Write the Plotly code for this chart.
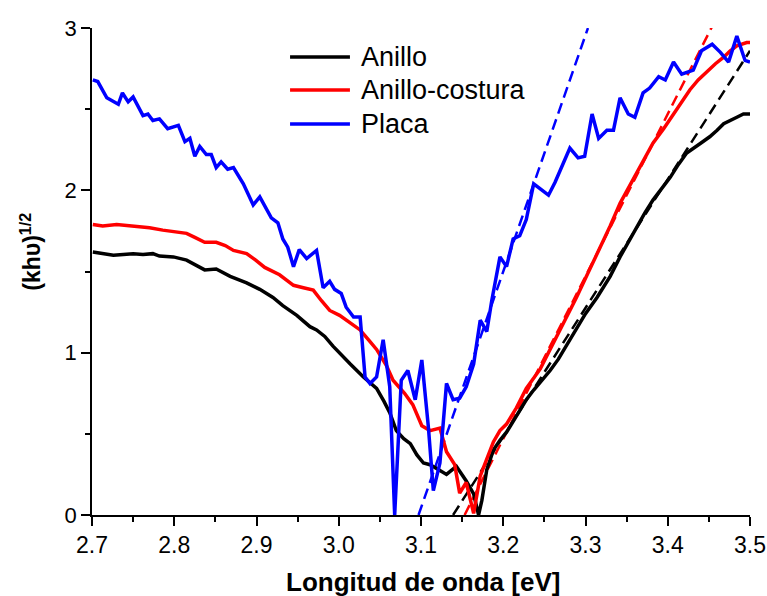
import plotly.graph_objects as go

# Energy axis [eV] and (k h nu)^(1/2) curves for each sample
anillo_x = [2.701, 2.713, 2.726, 2.738, 2.750, 2.762, 2.774, 2.782, 2.799, 2.815, 2.826, 2.837,
            2.851, 2.868, 2.888, 2.904, 2.920, 2.932, 2.949, 2.958, 2.965, 2.973, 2.983, 2.993,
            3.004, 3.014, 3.030, 3.046, 3.055, 3.062, 3.070, 3.079, 3.087, 3.095, 3.103, 3.111,
            3.121, 3.131, 3.143, 3.155, 3.164, 3.170, 3.174, 3.180, 3.188, 3.196, 3.204, 3.212,
            3.220, 3.228, 3.237, 3.247, 3.257, 3.267, 3.278, 3.289, 3.300, 3.314, 3.330, 3.342,
            3.352, 3.362, 3.372, 3.382, 3.392, 3.403, 3.413, 3.423, 3.440, 3.451, 3.460, 3.468,
            3.484, 3.492, 3.500]
anillo_y = [1.62, 1.61, 1.60, 1.605, 1.61, 1.605, 1.61, 1.595, 1.59, 1.57, 1.54, 1.51,
            1.515, 1.47, 1.43, 1.39, 1.34, 1.29, 1.23, 1.19, 1.16, 1.14, 1.10, 1.04,
            0.98, 0.93, 0.85, 0.78, 0.70, 0.63, 0.52, 0.47, 0.44, 0.37, 0.32, 0.31,
            0.28, 0.25, 0.30, 0.21, 0.13, 0.0, 0.09, 0.28, 0.40, 0.46, 0.51, 0.58,
            0.65, 0.71, 0.77, 0.83, 0.89, 0.96, 1.05, 1.15, 1.24, 1.34, 1.47, 1.59,
            1.68, 1.78, 1.86, 1.94, 2.01, 2.08, 2.16, 2.23, 2.29, 2.33, 2.37, 2.41,
            2.45, 2.47, 2.47]

costura_x = [2.701, 2.713, 2.730, 2.750, 2.770, 2.786, 2.803, 2.815, 2.825, 2.837, 2.851, 2.862,
             2.872, 2.888, 2.899, 2.910, 2.928, 2.945, 2.957, 2.969, 2.979, 2.989, 3.001, 3.014,
             3.026, 3.036, 3.046, 3.058, 3.066, 3.080, 3.090, 3.101, 3.111, 3.123, 3.131, 3.141,
             3.147, 3.155, 3.164, 3.172, 3.180, 3.188, 3.196, 3.204, 3.216, 3.228, 3.245, 3.257,
             3.268, 3.279, 3.289, 3.303, 3.318, 3.330, 3.342, 3.352, 3.362, 3.372, 3.382, 3.395,
             3.407, 3.417, 3.427, 3.437, 3.447, 3.458, 3.468, 3.476, 3.484, 3.496, 3.500]
costura_y = [1.79, 1.78, 1.79, 1.78, 1.77, 1.755, 1.745, 1.735, 1.71, 1.68, 1.68, 1.66,
             1.63, 1.61, 1.57, 1.525, 1.48, 1.415, 1.40, 1.385, 1.32, 1.26, 1.23, 1.18,
             1.14, 1.08, 1.02, 0.92, 0.83, 0.75, 0.68, 0.55, 0.52, 0.535, 0.39, 0.31,
             0.135, 0.20, 0.01, 0.24, 0.34, 0.45, 0.52, 0.56, 0.66, 0.78, 0.90, 1.02,
             1.12, 1.23, 1.34, 1.49, 1.65, 1.78, 1.92, 2.01, 2.10, 2.20, 2.29, 2.38,
             2.47, 2.55, 2.62, 2.68, 2.73, 2.78, 2.82, 2.86, 2.89, 2.91, 2.91]

placa_x = [2.701, 2.707, 2.718, 2.732, 2.737, 2.744, 2.750, 2.762, 2.768, 2.774, 2.782, 2.792,
           2.805, 2.813, 2.819, 2.825, 2.831, 2.839, 2.845, 2.851, 2.857, 2.865, 2.872, 2.884,
           2.896, 2.904, 2.918, 2.926, 2.932, 2.938, 2.945, 2.952, 2.961, 2.973, 2.981, 2.989,
           2.995, 3.003, 3.009, 3.018, 3.026, 3.032, 3.038, 3.046, 3.054, 3.062, 3.068, 3.076,
           3.084, 3.093, 3.101, 3.109, 3.115, 3.123, 3.131, 3.139, 3.147, 3.155, 3.164, 3.172,
           3.180, 3.186, 3.196, 3.204, 3.212, 3.220, 3.228, 3.237, 3.255, 3.263, 3.281, 3.291,
           3.299, 3.308, 3.316, 3.326, 3.334, 3.342, 3.352, 3.360, 3.370, 3.378, 3.389, 3.397,
           3.407, 3.417, 3.431, 3.441, 3.454, 3.464, 3.474, 3.484, 3.494, 3.500]
placa_y = [2.68, 2.67, 2.57, 2.53, 2.60, 2.545, 2.575, 2.46, 2.47, 2.43, 2.44, 2.38,
           2.40, 2.30, 2.32, 2.21, 2.27, 2.22, 2.22, 2.14, 2.175, 2.13, 2.14, 2.04,
           1.91, 1.96, 1.83, 1.80, 1.70, 1.65, 1.53, 1.635, 1.58, 1.63, 1.40, 1.44,
           1.39, 1.365, 1.28, 1.22, 1.22, 0.85, 0.81, 0.85, 1.08, 0.79, 0.0, 0.83,
           0.89, 0.71, 0.955, 0.54, 0.15, 0.32, 0.81, 0.71, 0.72, 0.79, 0.93, 1.20,
           1.13, 1.32, 1.59, 1.53, 1.70, 1.72, 1.82, 2.04, 1.97, 2.05, 2.26, 2.20,
           2.21, 2.47, 2.32, 2.37, 2.37, 2.57, 2.47, 2.45, 2.60, 2.63, 2.70, 2.68,
           2.79, 2.715, 2.74, 2.86, 2.90, 2.85, 2.79, 2.95, 2.80, 2.79]

# Linear band-gap fits (end points)
fit_anillo_x = [3.139, 3.500]
fit_anillo_y = [0.0, 2.86]
fit_costura_x = [3.153, 3.458]
fit_costura_y = [0.0, 3.05]
fit_placa_x = [3.097, 3.303]
fit_placa_y = [0.0, 3.0]

series_names = ["Anillo", "Anillo-costura", "Placa"]
series_colors = ["#000000", "#ff0000", "#0000ff"]

x_ticks = [2.7, 2.8, 2.9, 3.0, 3.1, 3.2, 3.3, 3.4, 3.5]
y_ticks = [0, 1, 2, 3]

FONT = "Arial, 'Liberation Sans', sans-serif"

fig = go.Figure()

curves = [(anillo_x, anillo_y), (costura_x, costura_y), (placa_x, placa_y)]
fits = [(fit_anillo_x, fit_anillo_y), (fit_costura_x, fit_costura_y), (fit_placa_x, fit_placa_y)]

for (fx, fy), color in zip(fits, series_colors):
    fig.add_trace(go.Scatter(x=fx, y=fy, mode="lines", showlegend=False, hoverinfo="skip",
                             line=dict(color=color, width=2.5, dash="11px,6px")))

for (cx, cy), name, color in zip(curves, series_names, series_colors):
    fig.add_trace(go.Scatter(x=cx, y=cy, mode="lines", name=name, showlegend=False,
                             line=dict(color=color, width=3.5)))

# Legend block drawn as short line samples with labels
legend_rows_y = [0.9405, 0.8727, 0.8029]
for name, color, ly in zip(series_names, series_colors, legend_rows_y):
    fig.add_shape(type="line", xref="paper", yref="paper", x0=0.301, x1=0.392, y0=ly, y1=ly,
                  line=dict(color=color, width=3.5))
    fig.add_annotation(xref="paper", yref="paper", x=0.406, y=ly, text=name, showarrow=False,
                       xanchor="left", yanchor="middle",
                       font=dict(family=FONT, size=27, color="black"))

# Y-axis title
fig.add_annotation(xref="paper", yref="paper", x=-0.094, y=0.541,
                   text="<b>(khυ)<sup>1/2</sup></b>", showarrow=False, textangle=-90,
                   xanchor="center", yanchor="middle",
                   font=dict(family=FONT, size=23, color="black"))

# X-axis title
fig.add_annotation(xref="paper", yref="paper", x=0.503, y=-0.137,
                   text="<b>Longitud de onda [eV]</b>", showarrow=False,
                   xanchor="center", yanchor="middle",
                   font=dict(family=FONT, size=26, color="black"))

axis_common = dict(
    showgrid=False, zeroline=False, showline=True, linecolor="black", linewidth=1.5,
    ticks="outside", ticklen=9, tickwidth=1.5, tickcolor="black", automargin=False,
)

fig.update_layout(
    width=767, height=596,
    margin=dict(l=92, r=17, t=28, b=81),
    paper_bgcolor="white", plot_bgcolor="white",
    showlegend=False,
    font=dict(family=FONT, color="black"),
    xaxis=dict(
        range=[2.7, 3.5], tickvals=x_ticks, ticktext=[f"{v:.1f}" for v in x_ticks],
        tickfont=dict(family=FONT, size=23),
        minor=dict(dtick=0.05, ticks="outside", ticklen=5, tickwidth=1.5, tickcolor="black"),
        **axis_common,
    ),
    yaxis=dict(
        range=[0, 3], tickvals=y_ticks, ticktext=[str(v) for v in y_ticks],
        tickfont=dict(family=FONT, size=22),
        minor=dict(dtick=0.5, ticks="outside", ticklen=5, tickwidth=1.5, tickcolor="black"),
        **axis_common,
    ),
)

fig.write_html("out.html")
